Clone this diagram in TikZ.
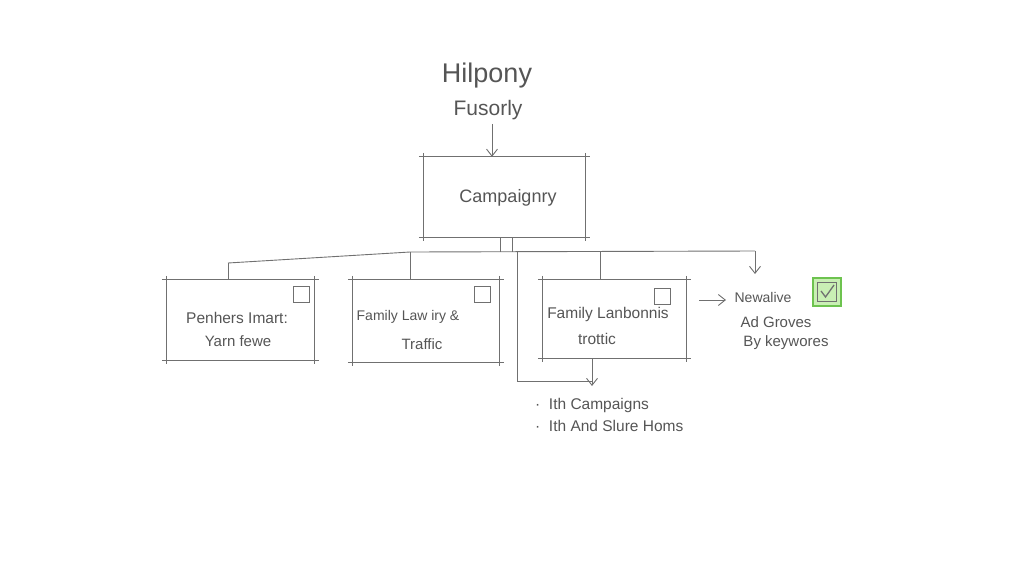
\documentclass[tikz,border=0pt]{standalone}
\usepackage{fontspec}
\setmainfont{Liberation Sans}
\usetikzlibrary{arrows.meta}
\definecolor{ink}{HTML}{707070}
\definecolor{txt}{HTML}{555555}
\definecolor{gfill}{HTML}{C9EFB4}
\definecolor{gline}{HTML}{6DC34F}
\tikzset{
  ln/.style={draw=ink, line width=0.9pt},
  arr/.style={ln, -{Straight Barb[length=7pt,width=11pt]}},
  boxn/.style={minimum width=147pt, minimum height=80pt, inner sep=0pt},
  lbl/.style={text=txt, inner sep=0pt, align=center},
  tick/.style={ln, minimum size=16pt, inner sep=0pt},
}
\begin{document}
\begin{tikzpicture}[x=1pt,y=-1pt]
\useasboundingbox (0,0) rectangle (1024,576);
% title
\node[lbl, font=\fontsize{27}{30}\selectfont] (t1) at (487,76) {Hilpony};
\node[lbl, font=\fontsize{21}{24}\selectfont] (t2) at (488,110) {Fusorly};
% campaign box
\node[boxn, minimum width=161pt, minimum height=80pt] (camp) at (504.5,197) {};
\node[lbl, font=\fontsize{18}{20}\selectfont] (campt) at (508,198) {Campaignry};
\draw[ln] ([xshift=-5]camp.north west) -- ([xshift=5]camp.north east);
\draw[ln] ([xshift=-5]camp.south west) -- ([xshift=5]camp.south east);
\draw[ln] ([yshift=4]camp.north west) -- ([yshift=-4]camp.south west);
\draw[ln] ([yshift=4]camp.north east) -- ([yshift=-4]camp.south east);
\draw[arr] ([xshift=-12.5,yshift=-4]camp.north |- t2.south) -- ([xshift=-12.5]camp.north);
% boxes
\node[boxn] (b1) at (240.5,320) {};
\node[boxn, minimum width=146pt, minimum height=82pt] (b2) at (426,321) {};
\node[boxn, minimum width=143pt, minimum height=78pt] (b3) at (614.5,319) {};
\foreach \b in {b1,b2,b3}{
  \draw[ln] ([xshift=-5]\b.north west) -- ([xshift=5]\b.north east);
  \draw[ln] ([xshift=-5]\b.south west) -- ([xshift=5]\b.south east);
  \draw[ln] ([yshift=4]\b.north west) -- ([yshift=-4]\b.south west);
  \draw[ln] ([yshift=4]\b.north east) -- ([yshift=-4]\b.south east);
}
\node[tick] (s1) at (301.5,294.5) {};
\node[tick] (s2) at (482.5,294.5) {};
\node[tick] (s3) at (662,296) {};
\node[lbl, font=\fontsize{15.5}{17}\selectfont] (b1a) at (237,318) {Penhers Imart:};
\node[lbl, font=\fontsize{15}{17}\selectfont] (b1b) at (238,341) {Yarn fewe};
\node[lbl, font=\fontsize{14}{16}\selectfont] (b2a) at (408,317) {Family Law iry \&};
\node[lbl, font=\fontsize{15}{17}\selectfont] (b2b) at (422,344) {Traffic};
\node[lbl, font=\fontsize{15.5}{17}\selectfont] (b3a) at (608,314) {Family Lanbonnis};
\node[lbl, font=\fontsize{15.5}{17}\selectfont] (b3b) at (597,339) {trottic};
% hub lines
\coordinate (hA) at (228,263);
\coordinate (hB) at (410,252);
\coordinate (hC) at (600,251);
\coordinate (hD) at (755,251);
\coordinate (hE) at (517,251);
\coordinate (nTop) at (755,274);
\draw[ln] ([xshift=-4.5]camp.south) -- ([xshift=-4.5,yshift=-15]camp.south);
\draw[ln] ([xshift=7.5]camp.south) -- ([xshift=7.5,yshift=-15]camp.south);
\draw[ln] (hA) -- (hB) -- (hD);
\draw[arr] (hD) -- (nTop);
\draw[ln] (hA) -- (hA |- b1.north);
\draw[ln] (hB) -- (hB |- b2.north);
\draw[ln] (hC) -- (hC |- b3.north);
\coordinate (bk1) at (517,381);
\coordinate (bk2) at (592,381);
\draw[ln] (hE) -- (bk1) -- (bk2);
\draw[arr] (bk2 |- b3.south) -- ([yshift=-5]bk2);
% right side
\coordinate (ra) at (699,300);
\coordinate (rb) at (726,300);
\draw[arr] (ra) -- (rb);
\node[lbl, font=\fontsize{14}{16}\selectfont] (n1) at (763,297) {Newalive};
\node[lbl, font=\fontsize{15}{17}\selectfont] (n2) at (776,322) {Ad Groves};
\node[lbl, font=\fontsize{15}{17}\selectfont] (n3) at (786,343) {By keywores};
\node[draw=gline, fill=gfill, line width=1.2pt, minimum size=28pt, inner sep=0pt] (chk) at (827,292) {};
\node[draw=ink, line width=1pt, minimum size=19pt, inner sep=0pt] (chki) at (827,292) {};
\draw[draw=ink, line width=1.3pt] ([xshift=-6,yshift=1]chki.center) -- ([xshift=-1.5,yshift=-5]chki.center) -- ([xshift=7,yshift=7]chki.center);
% bullets
\node[lbl, anchor=west, font=\fontsize{15.5}{17}\selectfont] (l1) at (535,405) {·\ \ Ith Campaigns};
\node[lbl, anchor=west, font=\fontsize{15.5}{17}\selectfont] (l2) at (535,426) {·\ \ Ith And Slure Homs};
\end{tikzpicture}
\end{document}
